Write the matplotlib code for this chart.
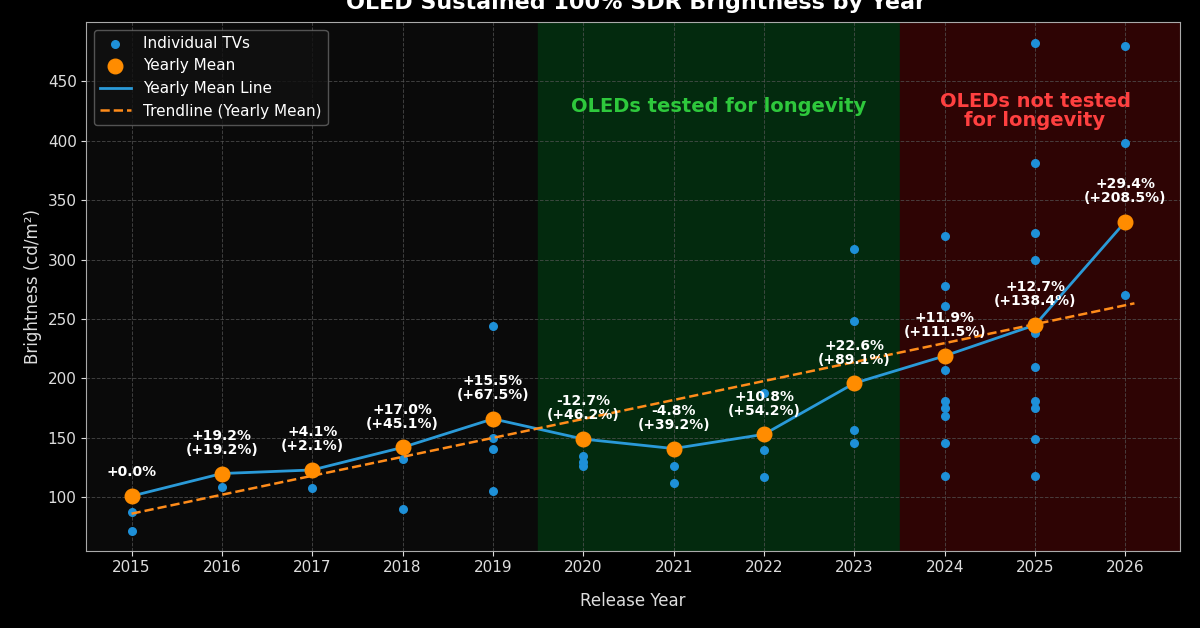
import matplotlib
matplotlib.use("Agg")
import matplotlib.pyplot as plt
import numpy as np

years = [2015,2016,2017,2018,2019,2020,2021,2022,2023,2024,2025,2026]
individual = {
    2015: [88, 72],
    2016: [109],
    2017: [108],
    2018: [132, 90],
    2019: [244, 150, 141, 105],
    2020: [135, 130, 126],
    2021: [126, 112],
    2022: [188, 140, 117],
    2023: [309, 248, 157, 146],
    2024: [320, 278, 261, 207, 181, 175, 168, 146, 118],
    2025: [482, 381, 322, 300, 238, 210, 181, 175, 149, 118],
    2026: [480, 398, 270],
}
means = [101, 120, 123, 142, 166, 149, 141, 153, 196, 219, 245, 332]
yoy = ["+0.0%", "+19.2%", "+4.1%", "+17.0%", "+15.5%", "-12.7%", "-4.8%", "+10.8%", "+22.6%", "+11.9%", "+12.7%", "+29.4%"]
cum = ["", "(+19.2%)", "(+2.1%)", "(+45.1%)", "(+67.5%)", "(+46.2%)", "(+39.2%)", "(+54.2%)", "(+89.1%)", "(+111.5%)", "(+138.4%)", "(+208.5%)"]

fig = plt.figure(figsize=(12, 6.28), dpi=100, facecolor="#000000")
ax = fig.add_axes([0.072, 0.123, 0.911, 0.842])
ax.set_facecolor("#0a0a0a")
ax.axvspan(2019.5, 2023.5, color="#032a0e", zorder=0)
ax.axvspan(2023.5, 2026.6, color="#2e0404", zorder=0)
ax.grid(True, color="#555555", ls="--", lw=0.7, alpha=0.7)
ax.set_axisbelow(True)

xs, ys = [], []
for y in years:
    for v in individual[y]:
        xs.append(y); ys.append(v)
ax.scatter(xs, ys, s=30, color="#1e90d8", zorder=3, label="Individual TVs")
ax.plot(years, means, color="#2a9ad8", lw=2, zorder=4, label="Yearly Mean Line")
ax.scatter(years, means, s=110, color="#ff8c00", zorder=5, label="Yearly Mean")
c = np.polyfit(years, means, 1)
tx = np.array([2015, 2026.1])
ax.plot(tx, np.polyval(c, tx), color="#ff8c1a", ls="--", lw=1.8, zorder=4, label="Trendline (Yearly Mean)")

for x, m, a, b in zip(years, means, yoy, cum):
    t = a if not b else a + "\n" + b
    ax.text(x, m + 14, t, ha="center", va="bottom", color="white", fontsize=10, fontweight="bold", linespacing=1.0, zorder=6)

ax.text(2021.5, 429, "OLEDs tested for longevity", color="#2ec83c", fontsize=14, fontweight="bold", ha="center", va="center")
ax.text(2025.0, 425, "OLEDs not tested\nfor longevity", color="#ff4040", fontsize=14, fontweight="bold", ha="center", va="center", linespacing=0.95)

ax.set_xlim(2014.5, 2026.6)
ax.set_ylim(55, 500)
ax.set_xticks(years)
ax.set_yticks([100,150,200,250,300,350,400,450])
ax.tick_params(colors="#dddddd", labelsize=11)
for s in ax.spines.values():
    s.set_color("#aaaaaa")
ax.set_xlabel("Release Year", color="#dddddd", fontsize=12, labelpad=12)
ax.set_ylabel("Brightness (cd/m²)", color="#dddddd", fontsize=12)
fig.text(0.53, 0.995, "OLED Sustained 100% SDR Brightness by Year", color="white", fontsize=16, fontweight="bold", ha="center", va="center")

handles, labels = ax.get_legend_handles_labels()
order = [labels.index(l) for l in ["Individual TVs", "Yearly Mean", "Yearly Mean Line", "Trendline (Yearly Mean)"]]
leg = ax.legend([handles[i] for i in order], [labels[i] for i in order], loc="upper left", facecolor="#111111", edgecolor="#666666", fontsize=11)
for t in leg.get_texts():
    t.set_color("white")

fig.savefig("out.png", dpi=100, facecolor=fig.get_facecolor())
